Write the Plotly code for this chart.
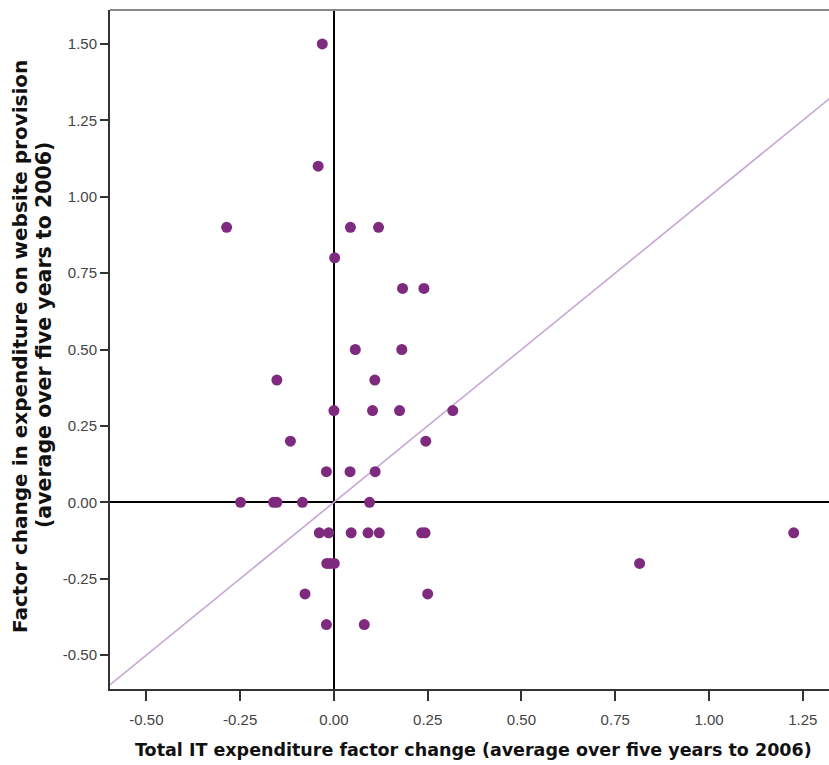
import plotly.graph_objects as go

# Data
it_change = [-0.031, -0.042, -0.286, 0.044, 0.119, 0.002, 0.183, 0.240, 0.057, 0.181,
             -0.152, 0.109, 0.000, 0.103, 0.175, 0.317, -0.116, 0.245, -0.020, 0.043,
             0.110, -0.249, -0.161, -0.152, -0.084, 0.095, -0.039, -0.014, 0.046, 0.091,
             0.121, 0.234, 0.243, 1.226, -0.019, -0.010, 0.001, 0.815, -0.077, 0.250,
             -0.020, 0.081]
web_change = [1.50, 1.10, 0.90, 0.90, 0.90, 0.80, 0.70, 0.70, 0.50, 0.50,
              0.40, 0.40, 0.30, 0.30, 0.30, 0.30, 0.20, 0.20, 0.10, 0.10,
              0.10, 0.00, 0.00, 0.00, 0.00, 0.00, -0.10, -0.10, -0.10, -0.10,
              -0.10, -0.10, -0.10, -0.10, -0.20, -0.20, -0.20, -0.20, -0.30, -0.30,
              -0.40, -0.40]
ref_line = [-0.6, 1.4]
x_ticks = [-0.50, -0.25, 0.00, 0.25, 0.50, 0.75, 1.00, 1.25]
y_ticks = [-0.50, -0.25, 0.00, 0.25, 0.50, 0.75, 1.00, 1.25, 1.50]

x_title = "Total IT expenditure factor change (average over five years to 2006)"
y_title_1 = "Factor change in expenditure on website provision"
y_title_2 = "(average over five years to 2006)"

W, H = 829, 765
PL, PR, PT, PB = 110, 829, 10, 689  # plot area in page pixels


def px_x(p):
    return (p - PL) / (PR - PL)


def px_y(p):
    return (PB - p) / (PB - PT)


fig = go.Figure()
fig.add_trace(go.Scatter(x=ref_line, y=ref_line, mode="lines",
                         line=dict(color="#C6A6D6", width=1.6),
                         hoverinfo="skip", showlegend=False))
fig.add_trace(go.Scatter(x=it_change, y=web_change, mode="markers",
                         marker=dict(color="#7E2A7F", size=11, line=dict(width=0)),
                         showlegend=False))

tickfont = dict(family="Liberation Sans, Arial, sans-serif", size=15, color="#444444")
fig.update_layout(
    width=W, height=H,
    margin=dict(l=PL, r=W - PR, t=PT, b=H - PB, pad=0),
    paper_bgcolor="white", plot_bgcolor="white",
    xaxis=dict(range=[-0.597, 1.32], tickvals=x_ticks,
               ticktext=[f"{v:.2f}" for v in x_ticks],
               showgrid=False, zeroline=True, zerolinecolor="black", zerolinewidth=1.5,
               showline=True, linecolor="#333333", linewidth=2,
               ticks="outside", ticklen=10, tickwidth=2, tickcolor="#333333",
               ticklabelstandoff=6,
               tickfont=tickfont),
    yaxis=dict(range=[-0.611, 1.611], tickvals=y_ticks,
               ticktext=[f"{v:.2f}" for v in y_ticks],
               showgrid=False, zeroline=True, zerolinecolor="black", zerolinewidth=1.5,
               showline=True, linecolor="#333333", linewidth=2,
               ticks="outside", ticklen=8, tickwidth=2, tickcolor="#333333",
               tickfont=tickfont),
    shapes=[dict(type="line", xref="paper", yref="paper", x0=0, x1=1, y0=1, y1=1,
                 line=dict(color="#888888", width=2))],
    annotations=[
        dict(text=f"<b>{x_title}</b>", xref="paper", yref="paper",
             x=px_x(474), y=px_y(750), xanchor="center", yanchor="middle",
             showarrow=False,
             font=dict(family="DejaVu Sans, sans-serif", size=17.5, color="#111111")),
        dict(text=f"<b>{y_title_1}</b>", xref="paper", yref="paper",
             x=px_x(20), y=px_y(347), xanchor="center", yanchor="middle",
             textangle=-90, showarrow=False,
             font=dict(family="DejaVu Sans, sans-serif", size=20, color="#111111")),
        dict(text=f"<b>{y_title_2}</b>", xref="paper", yref="paper",
             x=px_x(44), y=px_y(335), xanchor="center", yanchor="middle",
             textangle=-90, showarrow=False,
             font=dict(family="DejaVu Sans, sans-serif", size=20.5, color="#111111")),
    ],
)

fig.write_html(
    "out.html",
    config={"displayModeBar": False},
    post_script="document.body.style.margin='0';document.body.style.overflow='hidden';",
)
